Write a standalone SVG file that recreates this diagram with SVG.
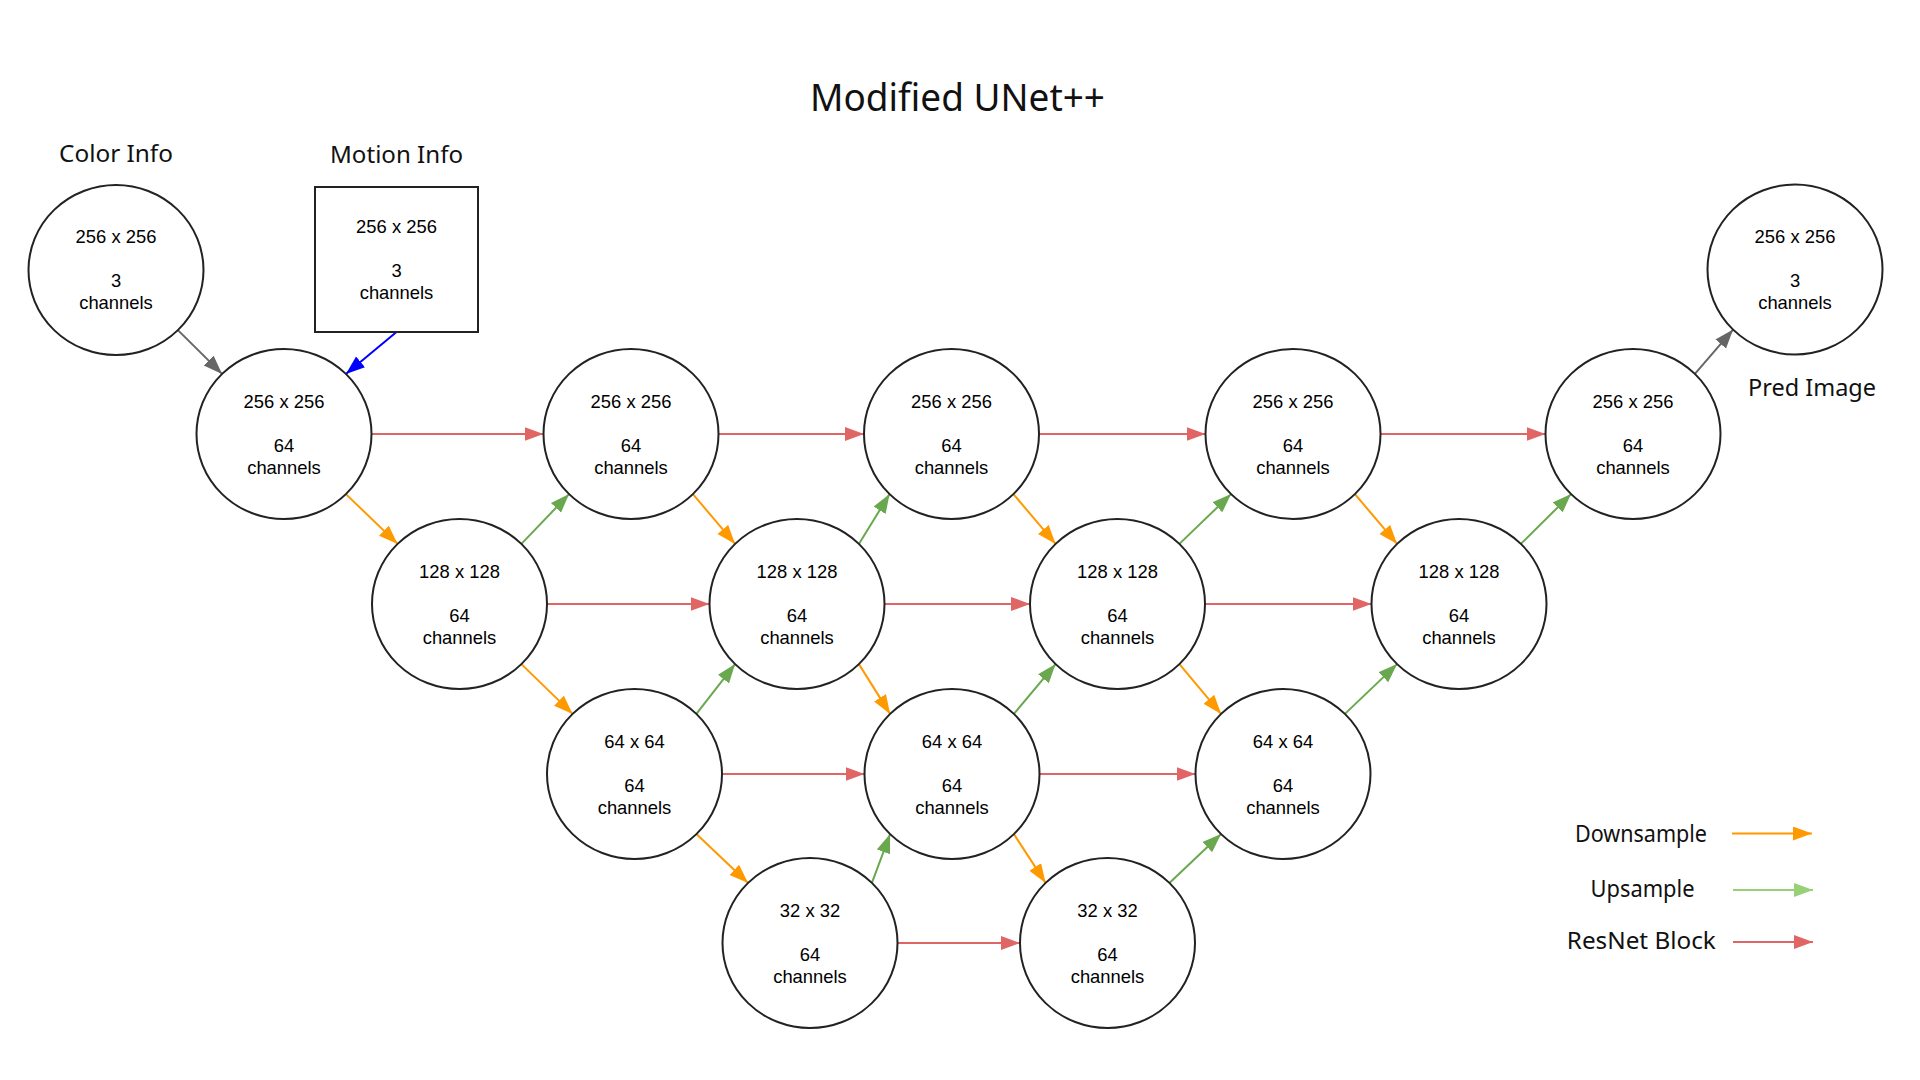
<svg xmlns="http://www.w3.org/2000/svg" width="1920" height="1080" viewBox="0 0 1920 1080">
<style>
.node{fill:#fff;stroke:#222;stroke-width:2}
.t{font-family:"Liberation Sans",Arial,sans-serif;font-size:18.4px;fill:#000;text-anchor:middle}
.lbl{font-family:"Comic Sans MS","Noto Sans",sans-serif;fill:#111;text-anchor:middle}
.c{fill:none;stroke-width:2}
.down{stroke:#FF9900}
.up{stroke:#6AA84F}
.res{stroke:#E06666}
.gray{stroke:#666}
.blue{stroke:#0000FF}
</style>
<defs>
<marker id="mO" markerUnits="userSpaceOnUse" markerWidth="21" markerHeight="15" refX="19" refY="7" orient="auto"><path d="M0,0 L19,7 L0,14 Z" fill="#FF9900"/></marker>
<marker id="mG" markerUnits="userSpaceOnUse" markerWidth="21" markerHeight="15" refX="19" refY="7" orient="auto"><path d="M0,0 L19,7 L0,14 Z" fill="#6AA84F"/></marker>
<marker id="mR" markerUnits="userSpaceOnUse" markerWidth="21" markerHeight="15" refX="19" refY="7" orient="auto"><path d="M0,0 L19,7 L0,14 Z" fill="#E06666"/></marker>
<marker id="mK" markerUnits="userSpaceOnUse" markerWidth="21" markerHeight="15" refX="19" refY="7" orient="auto"><path d="M0,0 L19,7 L0,14 Z" fill="#666"/></marker>
<marker id="mB" markerUnits="userSpaceOnUse" markerWidth="21" markerHeight="15" refX="19" refY="7" orient="auto"><path d="M0,0 L19,7 L0,14 Z" fill="#0000FF"/></marker>
<marker id="mLG" markerUnits="userSpaceOnUse" markerWidth="21" markerHeight="15" refX="19" refY="7" orient="auto"><path d="M0,0 L19,7 L0,14 Z" fill="#97D077"/></marker>
</defs>
<rect width="1920" height="1080" fill="#fff"/>

<text class="lbl" x="957.5" y="111" font-size="38" textLength="295" lengthAdjust="spacingAndGlyphs">Modified UNet++</text>
<text class="lbl" x="116" y="161.5" font-size="23" textLength="114" lengthAdjust="spacingAndGlyphs">Color Info</text>
<text class="lbl" x="396.5" y="162.5" font-size="23" textLength="133" lengthAdjust="spacingAndGlyphs">Motion Info</text>
<text class="lbl" x="1812" y="396" font-size="23" textLength="128" lengthAdjust="spacingAndGlyphs">Pred Image</text>

<g id="connectors">
<line class="c gray" x1="177.9" y1="330.1" x2="222.1" y2="373.9" marker-end="url(#mK)"/>
<line class="c blue" x1="396.5" y1="332" x2="345.9" y2="373.9" marker-end="url(#mB)"/>
<line class="c gray" x1="1694.9" y1="373.9" x2="1733.1" y2="329.6" marker-end="url(#mK)"/>
<line class="c res" x1="371.5" y1="434" x2="543.5" y2="434" marker-end="url(#mR)"/>
<line class="c res" x1="718.5" y1="434" x2="864" y2="434" marker-end="url(#mR)"/>
<line class="c res" x1="1039" y1="434" x2="1205.5" y2="434" marker-end="url(#mR)"/>
<line class="c res" x1="1380.5" y1="434" x2="1545.5" y2="434" marker-end="url(#mR)"/>
<line class="c res" x1="547" y1="604" x2="709.5" y2="604" marker-end="url(#mR)"/>
<line class="c res" x1="884.5" y1="604" x2="1030" y2="604" marker-end="url(#mR)"/>
<line class="c res" x1="1205" y1="604" x2="1371.5" y2="604" marker-end="url(#mR)"/>
<line class="c res" x1="722" y1="774" x2="864.5" y2="774" marker-end="url(#mR)"/>
<line class="c res" x1="1039.5" y1="774" x2="1195.5" y2="774" marker-end="url(#mR)"/>
<line class="c res" x1="897.5" y1="943" x2="1020" y2="943" marker-end="url(#mR)"/>
<line class="c down" x1="345.9" y1="494.1" x2="397.6" y2="543.9" marker-end="url(#mO)"/>
<line class="c down" x1="692.9" y1="494.1" x2="735.1" y2="543.9" marker-end="url(#mO)"/>
<line class="c down" x1="1013.4" y1="494.1" x2="1055.6" y2="543.9" marker-end="url(#mO)"/>
<line class="c down" x1="1354.9" y1="494.1" x2="1397.1" y2="543.9" marker-end="url(#mO)"/>
<line class="c down" x1="521.4" y1="664.1" x2="572.6" y2="713.9" marker-end="url(#mO)"/>
<line class="c down" x1="858.9" y1="664.1" x2="890.1" y2="713.9" marker-end="url(#mO)"/>
<line class="c down" x1="1179.4" y1="664.1" x2="1221.1" y2="713.9" marker-end="url(#mO)"/>
<line class="c down" x1="696.4" y1="834.1" x2="748.1" y2="882.9" marker-end="url(#mO)"/>
<line class="c down" x1="1013.9" y1="834.1" x2="1045.6" y2="882.9" marker-end="url(#mO)"/>
<line class="c up" x1="521.4" y1="543.9" x2="569.1" y2="494.1" marker-end="url(#mG)"/>
<line class="c up" x1="858.9" y1="543.9" x2="889.6" y2="494.1" marker-end="url(#mG)"/>
<line class="c up" x1="1179.4" y1="543.9" x2="1231.1" y2="494.1" marker-end="url(#mG)"/>
<line class="c up" x1="1520.9" y1="543.9" x2="1571.1" y2="494.1" marker-end="url(#mG)"/>
<line class="c up" x1="696.4" y1="713.9" x2="735.1" y2="664.1" marker-end="url(#mG)"/>
<line class="c up" x1="1013.9" y1="713.9" x2="1055.6" y2="664.1" marker-end="url(#mG)"/>
<line class="c up" x1="1344.9" y1="713.9" x2="1397.1" y2="664.1" marker-end="url(#mG)"/>
<line class="c up" x1="871.9" y1="882.9" x2="890.1" y2="834.1" marker-end="url(#mG)"/>
<line class="c up" x1="1169.4" y1="882.9" x2="1221.1" y2="834.1" marker-end="url(#mG)"/>
</g>

<g id="color-info"><ellipse class="node" cx="116" cy="270" rx="87.5" ry="85"/>
<text class="t" x="116" y="243">256 x 256</text><text class="t" x="116" y="287">3</text><text class="t" x="116" y="309">channels</text></g>
<g id="motion-info"><rect class="node" x="315" y="187" width="163" height="145"/>
<text class="t" x="396.5" y="233">256 x 256</text><text class="t" x="396.5" y="277">3</text><text class="t" x="396.5" y="299">channels</text></g>

<g id="n256-0"><ellipse class="node" cx="284" cy="434" rx="87.5" ry="85"/>
<text class="t" x="284" y="407.5">256 x 256</text><text class="t" x="284" y="451.5">64</text><text class="t" x="284" y="473.5">channels</text></g>
<g id="n256-1"><ellipse class="node" cx="631" cy="434" rx="87.5" ry="85"/>
<text class="t" x="631" y="407.5">256 x 256</text><text class="t" x="631" y="451.5">64</text><text class="t" x="631" y="473.5">channels</text></g>
<g id="n256-2"><ellipse class="node" cx="951.5" cy="434" rx="87.5" ry="85"/>
<text class="t" x="951.5" y="407.5">256 x 256</text><text class="t" x="951.5" y="451.5">64</text><text class="t" x="951.5" y="473.5">channels</text></g>
<g id="n256-3"><ellipse class="node" cx="1293" cy="434" rx="87.5" ry="85"/>
<text class="t" x="1293" y="407.5">256 x 256</text><text class="t" x="1293" y="451.5">64</text><text class="t" x="1293" y="473.5">channels</text></g>
<g id="n256-4"><ellipse class="node" cx="1633" cy="434" rx="87.5" ry="85"/>
<text class="t" x="1633" y="407.5">256 x 256</text><text class="t" x="1633" y="451.5">64</text><text class="t" x="1633" y="473.5">channels</text></g>

<g id="n128-0"><ellipse class="node" cx="459.5" cy="604" rx="87.5" ry="85"/>
<text class="t" x="459.5" y="577.5">128 x 128</text><text class="t" x="459.5" y="621.5">64</text><text class="t" x="459.5" y="643.5">channels</text></g>
<g id="n128-1"><ellipse class="node" cx="797" cy="604" rx="87.5" ry="85"/>
<text class="t" x="797" y="577.5">128 x 128</text><text class="t" x="797" y="621.5">64</text><text class="t" x="797" y="643.5">channels</text></g>
<g id="n128-2"><ellipse class="node" cx="1117.5" cy="604" rx="87.5" ry="85"/>
<text class="t" x="1117.5" y="577.5">128 x 128</text><text class="t" x="1117.5" y="621.5">64</text><text class="t" x="1117.5" y="643.5">channels</text></g>
<g id="n128-3"><ellipse class="node" cx="1459" cy="604" rx="87.5" ry="85"/>
<text class="t" x="1459" y="577.5">128 x 128</text><text class="t" x="1459" y="621.5">64</text><text class="t" x="1459" y="643.5">channels</text></g>

<g id="n64-0"><ellipse class="node" cx="634.5" cy="774" rx="87.5" ry="85"/>
<text class="t" x="634.5" y="747.5">64 x 64</text><text class="t" x="634.5" y="791.5">64</text><text class="t" x="634.5" y="813.5">channels</text></g>
<g id="n64-1"><ellipse class="node" cx="952" cy="774" rx="87.5" ry="85"/>
<text class="t" x="952" y="747.5">64 x 64</text><text class="t" x="952" y="791.5">64</text><text class="t" x="952" y="813.5">channels</text></g>
<g id="n64-2"><ellipse class="node" cx="1283" cy="774" rx="87.5" ry="85"/>
<text class="t" x="1283" y="747.5">64 x 64</text><text class="t" x="1283" y="791.5">64</text><text class="t" x="1283" y="813.5">channels</text></g>

<g id="n32-0"><ellipse class="node" cx="810" cy="943" rx="87.5" ry="85"/>
<text class="t" x="810" y="916.5">32 x 32</text><text class="t" x="810" y="960.5">64</text><text class="t" x="810" y="982.5">channels</text></g>
<g id="n32-1"><ellipse class="node" cx="1107.5" cy="943" rx="87.5" ry="85"/>
<text class="t" x="1107.5" y="916.5">32 x 32</text><text class="t" x="1107.5" y="960.5">64</text><text class="t" x="1107.5" y="982.5">channels</text></g>

<g id="pred-image"><ellipse class="node" cx="1795" cy="269.5" rx="87.5" ry="85"/>
<text class="t" x="1795" y="242.5">256 x 256</text><text class="t" x="1795" y="286.5">3</text><text class="t" x="1795" y="308.5">channels</text></g>

<g id="legend">
<text class="lbl" x="1641" y="841.5" font-size="23" textLength="132" lengthAdjust="spacingAndGlyphs">Downsample</text>
<line class="c" stroke="#FF9900" x1="1732" y1="833.5" x2="1812" y2="833.5" marker-end="url(#mO)"/>
<text class="lbl" x="1642.5" y="897" font-size="23" textLength="104" lengthAdjust="spacingAndGlyphs">Upsample</text>
<line class="c" stroke="#97D077" x1="1733" y1="890" x2="1813" y2="890" marker-end="url(#mLG)"/>
<text class="lbl" x="1641.3" y="949" font-size="23" textLength="149" lengthAdjust="spacingAndGlyphs">ResNet Block</text>
<line class="c" stroke="#E06666" x1="1733" y1="942" x2="1813" y2="942" marker-end="url(#mR)"/>
</g>
</svg>
